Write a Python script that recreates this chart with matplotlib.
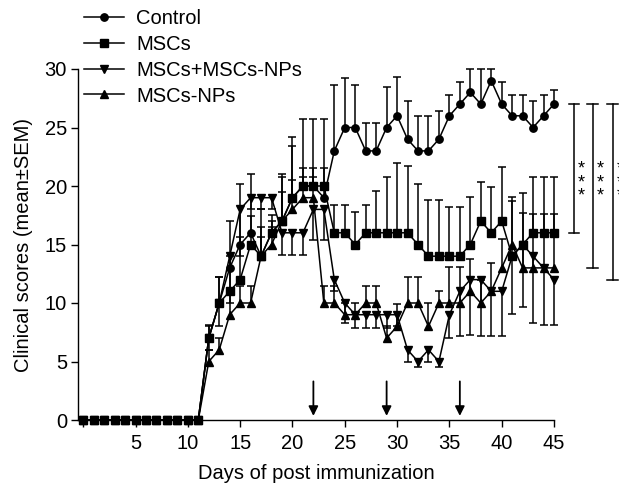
import numpy as np
import matplotlib
matplotlib.use('Agg')
import matplotlib.pyplot as plt
from matplotlib.lines import Line2D

plt.rcParams['font.family'] = ['Liberation Sans', 'DejaVu Sans']
plt.rcParams['font.size'] = 14.5

days = np.arange(0, 46)

control = [0, 0, 0, 0, 0, 0, 0, 0, 0, 0, 0, 0,
           7, 10, 13, 15, 16, 14, 16, 17, 19, 20,
           20, 19, 23, 25, 25, 23, 23, 25, 26, 24,
           23, 23, 24, 26, 27, 28, 27, 29, 27, 26,
           26, 25, 26, 27]
control_err = [0, 0, 0, 0, 0, 0, 0, 0, 0, 0, 0, 0,
               1, 2.2, 4, 5.2, 5, 4, 1.5, 4, 5.2, 5.7,
               5.7, 6.7, 5.6, 4.2, 3.6, 2.4, 2.4, 3.5, 3.3, 3.3,
               3, 3, 2.4, 1.8, 1.9, 2, 3, 1, 1.9, 1.8,
               1.8, 2.3, 1.8, 1.2]

mscs = [0, 0, 0, 0, 0, 0, 0, 0, 0, 0, 0, 0,
        7, 10, 11, 12, 15, 14, 16, 17, 19, 20,
        20, 20, 16, 16, 15, 16, 16, 16, 16, 16,
        15, 14, 14, 14, 14, 15, 17, 16, 17, 14,
        15, 16, 16, 16]
mscs_err = [0, 0, 0, 0, 0, 0, 0, 0, 0, 0, 0, 0,
            1.1, 2.2, 3, 3.6, 2.4, 2.5, 1, 3.8, 4.4, 1.5,
            1.5, 1.5, 2.4, 2.4, 2.75, 2.4, 3.6, 4.8, 6, 5.7,
            5.2, 4.8, 4.8, 4.2, 4.2, 4.1, 3.3, 3.9, 4.6, 5.1,
            4.4, 4.8, 4.8, 4.8]

combo = [0, 0, 0, 0, 0, 0, 0, 0, 0, 0, 0, 0,
         7, 10, 14, 18, 19, 19, 19, 16, 16, 16,
         18, 18, 12, 10, 9, 9, 9, 9, 9, 6,
         5, 6, 5, 9, 11, 12, 12, 11, 11, 14,
         15, 14, 13, 12]
combo_err = [0, 0, 0, 0, 0, 0, 0, 0, 0, 0, 0, 0,
             1, 2, 4, 4, 1, 1, 1, 1.9, 1.9, 1.9,
             2.6, 2.6, 1, 1.7, 1.1, 1.1, 1.1, 1.1, 1, 1,
             0.5, 1, 0.5, 2, 3.8, 4.7, 4.8, 3.8, 3.8, 4.9,
             5.3, 5.7, 4.9, 3.9]

nps = [0, 0, 0, 0, 0, 0, 0, 0, 0, 0, 0, 0,
       5, 6, 9, 10, 10, 14, 15, 17, 18, 19,
       19, 10, 10, 9, 9, 10, 10, 7, 8, 10,
       10, 8, 10, 10, 10, 11, 10, 11, 13, 15,
       13, 13, 13, 13]
nps_err = [0, 0, 0, 0, 0, 0, 0, 0, 0, 0, 0, 0,
           1, 1, 1.7, 1.45, 1.45, 1.6, 1.5, 2.5, 2.5, 1.8,
           1.8, 1.45, 1.45, 1, 1, 1.45, 1.45, 1, 1.9, 2.2,
           2.2, 2, 1, 3.1, 3.1, 2.8, 2, 2.4, 2.5, 3.7,
           4.7, 4.6, 4.6, 4.6]

labels = ['Control', 'MSCs', 'MSCs+MSCs-NPs', 'MSCs-NPs']
markers = ['o', 's', 'v', '^']
treatment_days = [22, 29, 36]
bracket_x = [46.9, 48.7, 50.6]

fig = plt.figure(figsize=(6.19, 4.88), dpi=100)
ax = fig.add_axes([78 / 619, 68 / 488, 476 / 619, 351 / 488])


def bars(vals, err, up=True):
    v = np.array(vals, dtype=float)
    e = np.array(err, dtype=float)
    m = e > 0
    end = v + e if up else v - e
    ax.vlines(days[m], v[m], end[m], color='k', lw=1.1, zorder=2, clip_on=False)
    ax.plot(days[m], end[m], ls='none', marker='_', ms=5.5, mew=1.1,
            color='k', zorder=2, clip_on=False)


bars(control, control_err, up=True)
bars(mscs, mscs_err, up=True)
bars(combo, combo_err, up=False)
bars(nps, nps_err, up=True)

series = [control, mscs, combo, nps]
msize = {'o': 5.3, 's': 5.3, 'v': 6.3, '^': 6.3}
# MSCs drawn last so its squares sit on top, as in the original
for i in [0, 2, 3, 1]:
    mk = markers[i]
    ax.plot(days, series[i], color='k', lw=1.1, marker=mk, ms=msize[mk],
            zorder=3 + (i == 1), clip_on=False)

# treatment arrows
for d in treatment_days:
    ax.annotate('', xy=(d, 0.35), xytext=(d, 3.3),
                arrowprops=dict(arrowstyle='-|>', color='k', lw=1.3,
                                mutation_scale=14, shrinkA=0, shrinkB=0))

# significance brackets
top = control[-1]
bottoms = [mscs[-1], nps[-1], combo[-1]]
for bx, b in zip(bracket_x, bottoms):
    ax.plot([bx, bx], [b, top], color='k', lw=1.1, clip_on=False)
    ax.plot([bx - 0.5, bx + 0.5], [top, top], color='k', lw=1.1, clip_on=False)
    ax.plot([bx - 0.5, bx + 0.5], [b, b], color='k', lw=1.1, clip_on=False)
    ax.text(bx + 0.72, 20.3, '*\n*\n*', ha='center', va='center', fontsize=13,
            linespacing=0.75, clip_on=False)

ax.set_xlim(-0.5, 45)
ax.set_ylim(0, 30)
ax.set_xticks(range(0, 46, 5))
ax.set_xticklabels([''] + [str(t) for t in range(5, 46, 5)])
ax.set_yticks(range(0, 31, 5))
for s in ['top', 'right']:
    ax.spines[s].set_visible(False)
for s in ['left', 'bottom']:
    ax.spines[s].set_linewidth(1.0)
ax.tick_params(direction='out', length=5, width=1.0, labelsize=14.5)
ax.tick_params(axis='x', pad=5)
ax.tick_params(axis='y', pad=3)

ax.set_xlabel('Days of post immunization', fontsize=14.5, labelpad=8)
ax.set_ylabel('Clinical scores (mean\u00b1SEM)', fontsize=14.5, labelpad=8)

handles = []
for lab, mk in zip(labels, markers):
    handles.append(Line2D([], [], color='k', lw=1.1, marker=mk, ms=msize[mk], label=lab))
fig.legend(handles=handles, loc='upper left', bbox_to_anchor=(84 / 619, 1 - 9 / 488),
           frameon=False, fontsize=14.5, handlelength=2.0, handletextpad=0.6,
           labelspacing=0.34, borderpad=0, borderaxespad=0)

fig.savefig('out.png', dpi=100)
